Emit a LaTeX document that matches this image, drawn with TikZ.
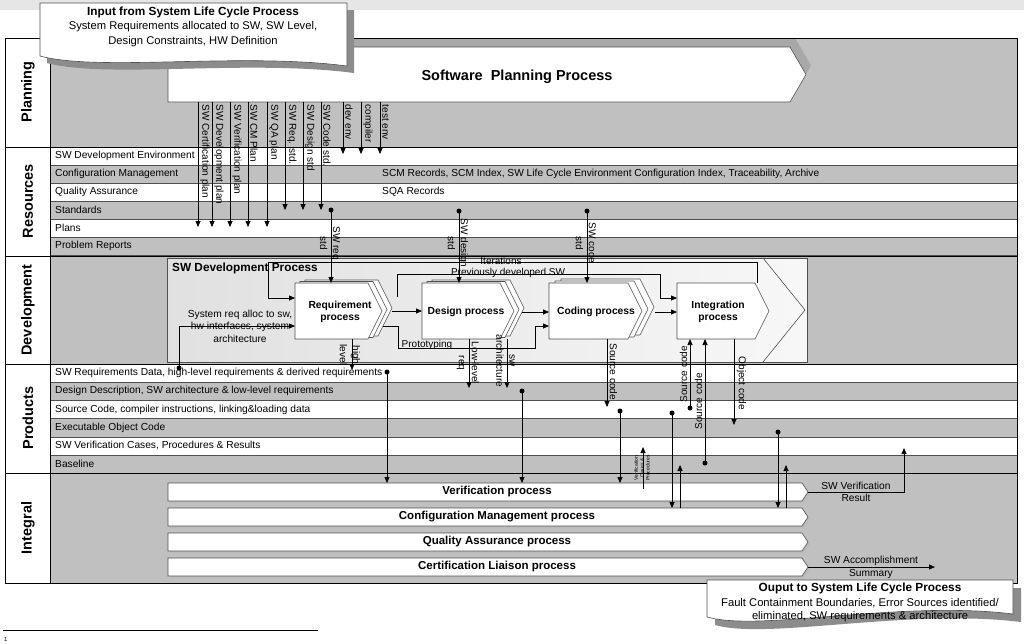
\documentclass[tikz,border=0pt]{standalone}
\usepackage{fontspec}
\setmainfont{Liberation Sans}
\usetikzlibrary{arrows.meta}
\definecolor{bgG}{HTML}{C0C0C0}
\definecolor{shG}{HTML}{8C8C8C}
\definecolor{lineG}{HTML}{505050}
\definecolor{topG}{HTML}{E6E6E6}
\definecolor{bandG}{HTML}{A8A8A8}
\newcommand\fs[2]{\fontsize{#1}{#2}\selectfont}
\newcommand\procshape[5]{\draw[procsty] (#1,#2) -- (#3,#2) -- ({#3+#5},{(#2+#4)/2}) -- (#3,#4) -- (#1,#4) -- cycle;}
\newcommand\lanerow[5]{\path[fill=#3, draw=lineG, line width=0.5pt] (50,#1) rectangle (1017,#2); \node[rowtxt] (#4) at (55,{(#1+#2)/2}) {#5};}
\newcommand\intbar[4]{\fill[shG!60] (170,{#1+2}) -- (804,{#1+2}) -- (810,{(#1+#2)/2+2}) -- (804,{#2+2}) -- (170,{#2+2}) -- cycle;
  \draw[procsty] (168,#1) -- (802,#1) -- (808,{(#1+#2)/2}) -- (802,#2) -- (168,#2) -- cycle;
  \node[bartxt] (#3) at (497,{(#1+#2)/2}) {#4};}
\tikzset{
  conn/.style={draw=black, line width=0.75pt},
  arr/.style={conn, -{Triangle[length=6pt,width=5pt]}},
  dotc/.style={circle, fill=black, inner sep=0pt, minimum size=5pt},
  rowtxt/.style={anchor=west, inner sep=0pt, font=\fs{10.2}{12}},
  lbl/.style={inner sep=0.5pt, font=\fs{10}{13}, align=center},
  vdown/.style={lbl, rotate=-90, anchor=south west},
  vup/.style={lbl, rotate=90, anchor=south west},
  procsty/.style={fill=white, draw=lineG, line width=0.6pt},
  ptxt/.style={font=\bfseries\fs{10.3}{12.5}, align=center, inner sep=0pt},
  bartxt/.style={font=\bfseries\fs{11.5}{14}, inner sep=0pt},
  lanelbl/.style={font=\bfseries\fs{14.5}{16}, rotate=90, inner sep=0pt},
}
\begin{document}
\begin{tikzpicture}[x=1pt,y=-1pt]
\useasboundingbox (0,0) rectangle (1024,643);
\fill[white] (0,0) rectangle (1024,643);
\fill[topG] (0,0) rectangle (1024,10);
% frame background
\fill[bgG] (50,38) rectangle (1017,583);
% planning process
\fill[bandG] (173,38) -- (795,38) -- (811,65.5) -- (795,93) -- (173,93) -- cycle;
\draw[fill=white, draw=lineG, line width=0.6pt] (168,47) -- (790,47) -- (806,74.5) -- (790,102) -- (168,102) -- cycle;
\node[font=\bfseries\fs{14.5}{17}] (spp) at (517,77) {Software\ \ Planning Process};
% resources rows
\lanerow{147}{165}{white}{rDev}{SW Development Environment}
\lanerow{165}{183}{bgG}{rCM}{Configuration Management}
\lanerow{183}{201}{white}{rQA}{Quality Assurance}
\lanerow{201}{219}{bgG}{rStd}{Standards}
\lanerow{219}{237}{white}{rPl}{Plans}
\lanerow{237}{255}{bgG}{rPR}{Problem Reports}
\node[rowtxt] (scm) at (382,174) {SCM Records, SCM Index, SW Life Cycle Environment Configuration Index, Traceability, Archive};
\node[rowtxt] (sqa) at (382,192) {SQA Records};
% products rows
\lanerow{364}{382.2}{white}{pReq}{SW Requirements Data, high-level requirements \& derived requirements}
\lanerow{382.2}{400.4}{bgG}{pDes}{Design Description, SW architecture \& low-level requirements}
\lanerow{400.4}{418.6}{white}{pSrc}{Source Code, compiler instructions, linking\&loading data}
\lanerow{418.6}{436.8}{bgG}{pExe}{Executable Object Code}
\lanerow{436.8}{455}{white}{pVer}{SW Verification Cases, Procedures \& Results}
\lanerow{455}{473}{bgG}{pBas}{Baseline}
% frame lines
\fill[white] (5,38) rectangle (50,583);
\draw[line width=0.7pt] (5,38) rectangle (1017,583);
\draw[line width=0.7pt] (50,38) -- (50,583);
\foreach \y in {147,256,364,473} \draw[line width=0.7pt] (5,\y) -- (1017,\y);
% lane labels
\node[lanelbl] (lPlan) at (28,92) {Planning};
\node[lanelbl] (lRes) at (28,201) {Resources};
\node[lanelbl] (lDev) at (28,310) {Development};
\node[lanelbl] (lProd) at (28,418) {Products};
\node[lanelbl] (lInt) at (28,528) {Integral};
% input box
\fill[shG] (47,10) -- (354,10) -- (354,73) .. controls (247,59) and (107,79) .. (47,63) -- cycle;
\draw[fill=white, draw=lineG, line width=0.6pt] (40,3) -- (347,3) -- (347,66) .. controls (240,52) and (100,72) .. (40,56) -- cycle;
\node[font=\bfseries\fs{11.8}{14}] (inT) at (193,12.5) {Input from System Life Cycle Process};
\node[font=\fs{11.2}{14}] (in2) at (193,27) {System Requirements allocated to SW, SW Level,};
\node[font=\fs{11.2}{14}] (in3) at (193,41.5) {Design Constraints, HW Definition};
% development box
\shade[left color=gray!24, right color=gray!6] (167,258) rectangle (807,362);
\draw[lineG, line width=0.6pt] (167,258) rectangle (807,362);
\draw[lineG, line width=0.6pt] (763,258) -- (805,310) -- (763,362);
\node[font=\bfseries\fs{11.8}{14}, anchor=west, inner sep=0pt] (sdp) at (172,268) {SW Development Process};
% processes
\procshape{305}{280}{378}{336}{14}
\procshape{300}{281.5}{373}{337.5}{14}
\procshape{295}{283}{368}{339}{14}
\node[ptxt] (req) at (340,312) {Requirement\\process};
\procshape{432}{280}{510}{336}{14}
\procshape{427}{281.5}{505}{337.5}{14}
\procshape{422}{283}{500}{339}{14}
\node[ptxt] (des) at (466,312) {Design process};
\procshape{561}{279}{640}{335}{14}
\procshape{555}{281}{634}{337}{14}
\procshape{549}{283}{628}{339}{14}
\node[ptxt] (cod) at (596,312) {Coding process};
\procshape{677}{283}{755}{339}{14}
\node[ptxt] (int) at (718,312) {Integration\\process};
% planning arrows
\foreach \x/\e/\t [count=\i] in {198/227/SW Certification plan, 212/227/SW Development plan, 230/227/SW Verification plan, 248/227/SW CM Plan, 267/227/SW QA plan, 285/210/SW Req. std., 303/210/SW Design std, 321/210/SW Code std., 343/154/dev env, 361/154/compiler, 380/154/test env}{
  \coordinate (ps\i) at (\x,102);
  \coordinate (pe\i) at (\x,\e);
  \draw[arr] (ps\i) -- (pe\i);
  \node[vdown] (pl\i) at (\x+1.5,104) {\t};
}
% standards to processes
\node[dotc] (dReq) at (331,210) {};
\coordinate (reqTop) at (331,283);
\draw[arr] (dReq.center) -- (reqTop);
\node[lbl, rotate=-90] (lReqStd) at (330,243) {SW req\\std};
\node[dotc] (dDes) at (459,211) {};
\coordinate (desTop) at (459,283);
\draw[arr] (dDes.center) -- (desTop);
\node[lbl, rotate=-90] (lDesStd) at (458,243) {SW design\\std};
\node[dotc] (dCod) at (587,211) {};
\coordinate (codTop) at (587,283);
\draw[arr] (dCod.center) -- (codTop);
\node[lbl, rotate=-90] (lCodStd) at (586,243) {SW code\\std};
% iterations
\coordinate (itS) at (757,283);
\coordinate (itA) at (757,262);
\coordinate (itB) at (268,262);
\coordinate (itC) at (268,298);
\coordinate (reqIn1) at (295,298);
\draw[arr] (itS) -- (itA) -- (itB) -- (itC) -- (reqIn1);
\node[lbl] (itL) at (501,261) {Iterations};
% previously developed SW
\coordinate (pvS) at (397,297);
\coordinate (pvA) at (397,274.5);
\coordinate (pvB) at (660,274.5);
\coordinate (pvC) at (660,298);
\coordinate (intIn1) at (677,298);
\draw[arr] (pvS) -- (pvA) -- (pvB) -- (pvC) -- (intIn1);
\node[lbl] (pvL) at (508,272.5) {Previously developed SW};
% process chain
\coordinate (reqOut) at (392,311);
\coordinate (desIn) at (422,311);
\draw[arr] (reqOut) -- (desIn);
\coordinate (desOut) at (522,312);
\coordinate (codIn) at (549,312);
\draw[arr] (desOut) -- (codIn);
\coordinate (codOut) at (655,312);
\coordinate (intIn2) at (677,312);
\draw[arr] (codOut) -- (intIn2);
% prototyping
\coordinate (prS) at (383,326);
\coordinate (prA) at (398,326);
\coordinate (prB) at (398,348);
\coordinate (prC) at (535,348);
\coordinate (prD) at (535,326);
\coordinate (codIn2) at (549,326);
\draw[arr] (prS) -- (prA) -- (prB) -- (prC) -- (prD) -- (codIn2);
\node[lbl] (prL) at (427,344.5) {Prototyping};
% system requirements input
\node[dotc] (dSys) at (179,368) {};
\coordinate (sysA) at (179,326);
\coordinate (reqIn2) at (295,326);
\draw[arr] (dSys.center) -- (sysA) -- (reqIn2);
\node[lbl, font=\fs{10.2}{12.5}] (sysL) at (240,326) {System req alloc to sw,\\hw interfaces, system\\architecture};
% development to products
\coordinate (reqBot) at (352,339);
\coordinate (hlEnd) at (352,370);
\draw[arr] (reqBot) -- (hlEnd);
\node[lbl, rotate=-90] (hlL) at (350,355) {high\\level};
\coordinate (desBot1) at (469,339);
\coordinate (llEnd) at (469,388);
\draw[arr] (desBot1) -- (llEnd);
\node[lbl, rotate=-90] (llL) at (468,363) {Low-level\\req};
\coordinate (desBot2) at (507,339);
\coordinate (swaEnd) at (507,388);
\draw[arr] (desBot2) -- (swaEnd);
\node[lbl, rotate=-90] (swaL) at (505.5,361) {sw\\architecture};
\coordinate (codBot) at (607,339);
\coordinate (scEnd) at (607,407);
\draw[arr] (codBot) -- (scEnd);
\node[vdown] (scL) at (609,343) {Source code};
\coordinate (intBot1) at (734,339);
\coordinate (ocEnd) at (734,425);
\draw[arr] (intBot1) -- (ocEnd);
\node[vdown] (ocL) at (736,356) {Object code};
\node[dotc] (dSc1) at (690,408) {};
\coordinate (intBot2) at (690,339);
\draw[arr] (dSc1.center) -- (intBot2);
\node[vup] (sc1L) at (688,403) {Source code};
\node[dotc] (dSc2) at (705,463) {};
\coordinate (intBot3) at (705,339);
\draw[arr] (dSc2.center) -- (intBot3);
\node[vup] (sc2L) at (703,430) {Source code};
% integral bars
\intbar{483}{501}{vp}{Verification process}
\intbar{508}{526}{cmp}{Configuration Management process}
\intbar{533}{551}{qap}{Quality Assurance process}
\intbar{558}{576}{clp}{Certification Liaison process}
% products to integral
\node[dotc] (dP1) at (387,372) {};
\coordinate (vpT1) at (387,483);
\draw[arr] (dP1.center) -- (vpT1);
\node[dotc] (dP2) at (522,391) {};
\coordinate (vpT2) at (522,483);
\draw[arr] (dP2.center) -- (vpT2);
\node[dotc] (dP3) at (620,411) {};
\coordinate (vpT3) at (620,483);
\draw[arr] (dP3.center) -- (vpT3);
\coordinate (vcS) at (643,489);
\coordinate (vcE) at (643,447);
\draw[arr] (vcS) -- (vcE);
\node[font=\fs{5}{5.8}, rotate=90, align=center, inner sep=0pt] (vcL) at (642,468) {Verification\\Cases \&\\Procedures};
\node[dotc] (dP4) at (672,413) {};
\coordinate (cmT1) at (672,508);
\draw[arr] (dP4.center) -- (cmT1);
\coordinate (cmT2) at (680,508);
\coordinate (basE1) at (680,465);
\draw[arr] (cmT2) -- (basE1);
\node[dotc] (dP5) at (778,432) {};
\coordinate (cmT3) at (778,508);
\draw[arr] (dP5.center) -- (cmT3);
\coordinate (cmT4) at (786,508);
\coordinate (basE2) at (786,465);
\draw[arr] (cmT4) -- (basE2);
% outputs
\coordinate (vpTip) at (808,492);
\coordinate (vrA) at (904,492);
\coordinate (vrE) at (904,448);
\draw[arr] (vpTip) -- (vrA) -- (vrE);
\node[lbl, font=\fs{10.2}{12.5}] (vrL) at (856,492) {SW Verification\\Result};
\coordinate (clTip) at (808,567);
\coordinate (asE) at (935,567);
\draw[arr] (clTip) -- (asE);
\node[lbl, font=\fs{10.2}{12.5}] (asL) at (871,567.5) {SW Accomplishment\\Summary};
% output box
\fill[shG] (715,588) -- (1021,588) -- (1021,622) .. controls (908,608) and (768,640) .. (715,625) -- cycle;
\draw[fill=white, draw=lineG, line width=0.6pt] (707,580) -- (1013,580) -- (1013,614) .. controls (900,600) and (760,632) .. (707,617) -- cycle;
\node[font=\bfseries\fs{11.8}{14}] (outT) at (860,588) {Ouput to System Life Cycle Process};
\node[font=\fs{11.2}{14}] (out2) at (860,603) {Fault Containment Boundaries, Error Sources identified/};
\node[font=\fs{11.2}{14}] (out3) at (860,617) {eliminated, SW requirements \& architecture};
% footnote
\coordinate (fnA) at (3,630);
\coordinate (fnB) at (318,630);
\draw[line width=0.6pt] (fnA) -- (fnB);
\node[font=\fs{6}{7}, anchor=north west, inner sep=0pt] (fn1) at (4,637) {1};
\end{tikzpicture}
\end{document}
